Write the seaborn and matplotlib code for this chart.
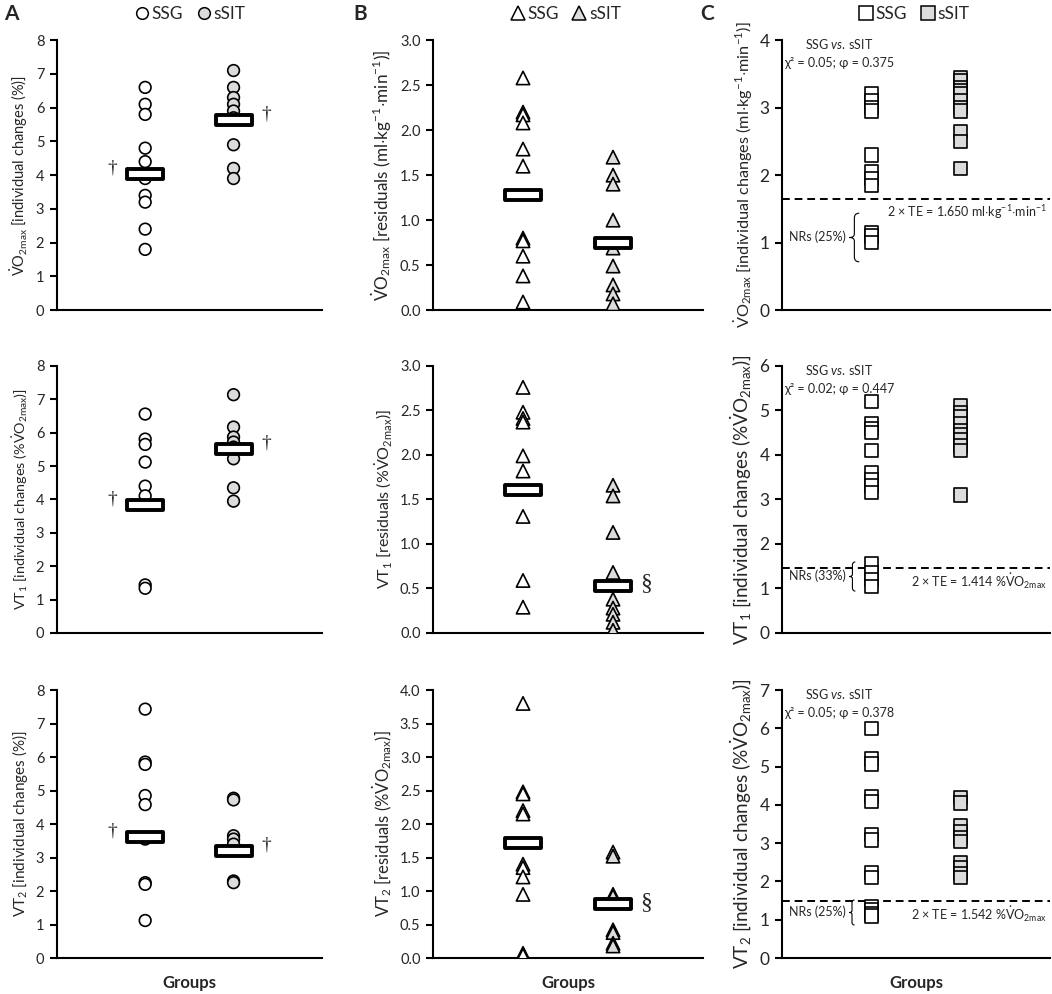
import numpy as np
import pandas as pd
import seaborn as sns
import matplotlib.pyplot as plt
from matplotlib.path import Path
from matplotlib.lines import Line2D

# ---- data ----
groups = ["SSG", "sSIT"]

# column A: individual changes (circles)
a_vo2_ssg = [6.6, 6.1, 5.8, 4.8, 4.4, 3.9, 3.4, 3.2, 2.4, 1.8]
a_vo2_ssit = [7.1, 6.6, 6.3, 6.1, 5.9, 5.7, 4.9, 4.2, 3.9]
a_vt1_ssg = [6.56, 5.81, 5.65, 5.12, 4.4, 4.11, 1.44, 1.34]
a_vt1_ssit = [7.14, 6.17, 5.87, 5.72, 5.57, 5.47, 5.22, 4.35, 3.95]
a_vt2_ssg = [7.43, 5.85, 5.78, 4.85, 4.58, 3.55, 2.25, 2.2, 1.12]
a_vt2_ssit = [4.77, 4.72, 3.65, 3.55, 3.4, 2.3, 2.25]
a_means = [[4.02, 5.62], [3.83, 5.5], [3.62, 3.2]]

# column B: residuals (triangles)
b_vo2_ssg = [2.58, 2.2, 2.17, 2.08, 1.79, 1.6, 0.8, 0.77, 0.6, 0.38, 0.09]
b_vo2_ssit = [1.7, 1.5, 1.4, 1.0, 0.69, 0.49, 0.28, 0.18, 0.07]
b_vt1_ssg = [2.76, 2.48, 2.41, 2.37, 1.99, 1.82, 1.31, 0.59, 0.29]
b_vt1_ssit = [1.66, 1.54, 1.13, 0.68, 0.38, 0.28, 0.21, 0.12, 0.03]
b_vt2_ssg = [3.8, 2.48, 2.45, 2.2, 2.15, 1.4, 1.35, 1.21, 0.95, 0.07, 0.04]
b_vt2_ssit = [1.58, 1.52, 0.95, 0.92, 0.42, 0.38, 0.22, 0.18]
b_means = [[1.28, 0.75], [1.61, 0.53], [1.72, 0.8]]

# column C: individual changes (squares)
c_vo2_ssg = [3.2, 3.1, 3.0, 2.95, 2.3, 2.05, 1.95, 1.85, 1.15, 1.1, 1.0]
c_vo2_ssit = [3.45, 3.4, 3.3, 3.25, 3.2, 3.1, 3.0, 2.95, 2.65, 2.5, 2.1]
c_vt1_ssg = [5.2, 4.7, 4.6, 4.5, 4.1, 3.6, 3.45, 3.3, 3.15, 1.55, 1.35, 1.2, 1.05]
c_vt1_ssit = [5.1, 4.95, 4.85, 4.7, 4.55, 4.45, 4.35, 4.2, 4.1, 3.1]
c_vt2_ssg = [6.0, 5.2, 5.07, 4.22, 4.08, 3.22, 3.08, 2.23, 2.1, 1.35, 1.25, 1.15, 1.1]
c_vt2_ssit = [4.2, 4.05, 3.45, 3.3, 3.15, 3.05, 2.5, 2.35, 2.2, 2.1]
c_te_line = [1.65, 1.46, 1.50]
c_te_text = ["1.650 ml$\\cdot$kg$^{-1}$$\\cdot$min$^{-1}$",
             "1.414 %$\\dot{\\mathrm{V}}\\mathrm{O}_{\\mathrm{2max}}$",
             "1.542 %$\\dot{\\mathrm{V}}\\mathrm{O}_{\\mathrm{2max}}$"]
c_chi = ["χ² = 0.05; φ = 0.375", "χ² = 0.02; φ = 0.447", "χ² = 0.05; φ = 0.378"]
c_nrs = ["NRs (25%)", "NRs (33%)", "NRs (25%)"]
c_nr_count = [3, 4, 4]

VO2 = r"$\dot{\mathrm{V}}\mathrm{O}_{\mathrm{2max}}$"
ylabels = [
    [VO2 + " [individual changes (%)]",
     r"VT$_1$ [individual changes (%" + VO2 + ")]",
     r"VT$_2$ [individual changes (%)]"],
    [VO2 + r" [residuals (ml$\cdot$kg$^{-1}$$\cdot$min$^{-1}$)]",
     r"VT$_1$ [residuals (%" + VO2 + ")]",
     r"VT$_2$ [residuals (%" + VO2 + ")]"],
    [VO2 + r" [individual changes (ml$\cdot$kg$^{-1}$$\cdot$min$^{-1}$)]",
     r"VT$_1$ [individual changes (%" + VO2 + ")]",
     r"VT$_2$ [individual changes (%" + VO2 + ")]"],
]

sns.set_style("white")
plt.rcParams["font.family"] = ["Lato", "DejaVu Sans"]
plt.rcParams["mathtext.fontset"] = "custom"
plt.rcParams["mathtext.rm"] = "Lato"
plt.rcParams["mathtext.it"] = "Lato:italic"
plt.rcParams["mathtext.bf"] = "Lato:bold"

palette = {"SSG": "white", "sSIT": "#dcdcdc"}

# wide hollow bar marker for the group means
bar_marker = Path([(-2.2, -0.55), (2.2, -0.55), (2.2, 0.55), (-2.2, 0.55), (-2.2, -0.55)],
                  [Path.MOVETO, Path.LINETO, Path.LINETO, Path.LINETO, Path.CLOSEPOLY])

# thin curly brace marker (tip at the origin, opening to the right)
brace_marker = Path(
    [(0.4, 1.0), (0.2, 1.0), (0.2, 0.8), (0.2, 0.15), (0.2, 0.0), (0.0, 0.0),
     (0.2, 0.0), (0.2, -0.15), (0.2, -0.8), (0.2, -1.0), (0.4, -1.0)],
    [Path.MOVETO, Path.CURVE3, Path.CURVE3, Path.LINETO, Path.CURVE3, Path.CURVE3,
     Path.CURVE3, Path.CURVE3, Path.LINETO, Path.CURVE3, Path.CURVE3])

fig = plt.figure(figsize=(10.52, 9.94), dpi=100)

col_left = [0.054, 0.4116, 0.7433]
col_width = [0.252, 0.2567, 0.2547]
row_bottom = [0.688, 0.3632, 0.0362]
row_height = [0.2716, 0.2686, 0.2696]

cols = [
    dict(marker="o", size=8.4, data=[(a_vo2_ssg, a_vo2_ssit), (a_vt1_ssg, a_vt1_ssit), (a_vt2_ssg, a_vt2_ssit)],
         ylims=[8, 8, 8], steps=[1, 1, 1], fmt="{:.0f}", tfs=10.5, lfs=[10.5, 10.4, 11], means=a_means),
    dict(marker="^", size=9.6, data=[(b_vo2_ssg, b_vo2_ssit), (b_vt1_ssg, b_vt1_ssit), (b_vt2_ssg, b_vt2_ssit)],
         ylims=[3, 3, 4], steps=[0.5, 0.5, 0.5], fmt="{:.1f}", tfs=10.5, lfs=[12.3, 11.5, 12], means=b_means),
    dict(marker="s", size=9.6, data=[(c_vo2_ssg, c_vo2_ssit), (c_vt1_ssg, c_vt1_ssit), (c_vt2_ssg, c_vt2_ssit)],
         ylims=[4, 6, 7], steps=[1, 1, 1], fmt="{:.0f}", tfs=12.5, lfs=[11.7, 13.6, 13.6], means=None),
]

for ci, col in enumerate(cols):
    for ri in range(3):
        ax = fig.add_axes([col_left[ci], row_bottom[ri], col_width[ci], row_height[ri]])
        ssg, ssit = col["data"][ri]
        df = pd.DataFrame({"group": ["SSG"] * len(ssg) + ["sSIT"] * len(ssit),
                           "value": ssg + ssit})
        sns.stripplot(data=df, x="group", y="value", hue="group", order=groups,
                      palette=palette, jitter=False, marker=col["marker"], size=col["size"],
                      edgecolor="black", linewidth=1.2, legend=False, ax=ax, zorder=3)
        top = col["ylims"][ri]

        if col["means"] is not None:
            mdf = pd.DataFrame({"group": groups, "value": col["means"][ri]})
            sns.pointplot(data=mdf, x="group", y="value", order=groups, color="black",
                          errorbar=None, marker=bar_marker, linestyle="none",
                          markersize=26, markeredgewidth=2.8, markerfacecolor="white",
                          markeredgecolor="black", ax=ax, zorder=5)
            m_ssg, m_ssit = col["means"][ri]
            if ci == 0:
                ax.text(-0.37, m_ssg + 0.18, "†", family="Liberation Serif", fontsize=14,
                        ha="center", va="center")
                ax.text(1.37, m_ssit + 0.18, "†", family="Liberation Serif", fontsize=14,
                        ha="center", va="center")
            elif ri > 0:
                ax.text(1.37, m_ssit + 0.03, "§", family="Liberation Serif", fontsize=17,
                        ha="center", va="center")
        else:
            ax.axhline(c_te_line[ri], color="black", ls=(0, (4, 2.5)), lw=1.4, zorder=2)
            tr = ax.get_xaxis_transform()
            ax.text(-0.36, 0.985, r"SSG $\mathit{vs.}\,$sSIT", fontsize=9,
                    ha="center", va="center", transform=tr)
            ax.text(-0.36, 0.915, c_chi[ri], fontsize=9, ha="center", va="center", transform=tr)
            ax.text(1.97, c_te_line[ri] - 0.05 * top, "2 × TE = " + c_te_text[ri],
                    fontsize=9, ha="right", va="center")
            nr_y = np.mean(ssg[-c_nr_count[ri]:])
            ax.text(-0.28, nr_y, c_nrs[ri], fontsize=9, ha="right", va="center")
            ax.plot([-0.25], [nr_y], marker=brace_marker, ls="none", ms=[35, 21, 18][ri],
                    mfc="none", mec="black", mew=0.8)

        ax.set_xlim(-1, 2)
        ax.set_ylim(0, top)
        ticks = np.arange(0, top + 1e-9, col["steps"][ri])
        ax.set_yticks(ticks)
        ax.set_yticklabels([col["fmt"].format(t) for t in ticks], fontsize=col["tfs"])
        ax.set_xticks([])
        ax.set_ylabel(ylabels[ci][ri], fontsize=col["lfs"][ri])
        ax.set_xlabel("Groups" if ri == 2 else "", fontsize=12, fontweight="bold", labelpad=12)
        sns.despine(ax=ax)
        for s in ["left", "bottom"]:
            ax.spines[s].set_linewidth(1.5)
            ax.spines[s].set_color("black")
        ax.tick_params(axis="y", left=True, length=5, width=1.5, color="black", pad=4)
        ax.patch.set_alpha(0)

# legends and panel letters
legend_x = [0.18, 0.537, 0.868]
for ci, col in enumerate(cols):
    handles = [Line2D([], [], marker=col["marker"], ls="none", mfc=palette[g], mec="black",
                      mew=1.1, ms=col["size"]) for g in groups]
    fig.legend(handles, groups, loc="center", bbox_to_anchor=(legend_x[ci], 0.986), ncol=2,
               frameon=False, handletextpad=0.05, columnspacing=0.7, handlelength=1.0,
               fontsize=12.5)
for lx, letter in zip([0.004, 0.336, 0.666], ["A", "B", "C"]):
    fig.text(lx, 0.986, letter, fontsize=15, fontweight="bold", va="center", ha="left")

fig.savefig("out.png", dpi=100)
